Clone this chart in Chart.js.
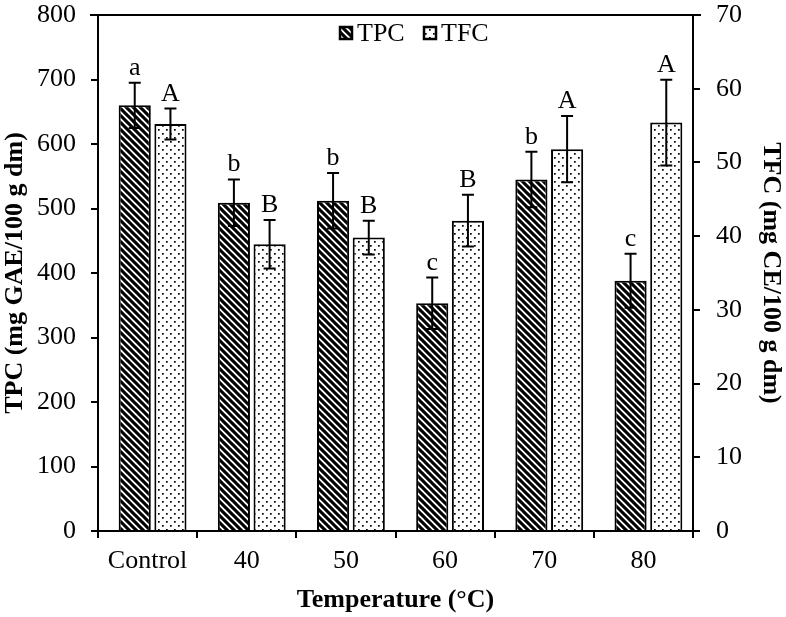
<!DOCTYPE html>
<html><head><meta charset="utf-8">
<script src="https://cdn.jsdelivr.net/npm/chart.js@4/dist/chart.umd.min.js"></script>
<style>html,body{margin:0;padding:0;background:#fff}#wrap{width:786px;height:617px}</style>
</head><body><div id="wrap"><canvas id="c" width="786" height="617"></canvas></div>
<script>
const categories = ['Control', '40', '50', '60', '70', '80'];
const tpcValues = [660, 509, 512, 353, 545, 388];
const tpcErrors = [35, 36, 43, 40, 43, 42];
const tfcValues = [55.2, 38.9, 39.8, 42.1, 51.8, 55.4];
const tfcErrors = [2.1, 3.3, 2.3, 3.5, 4.5, 5.8];
const tpcLetters = ['a', 'b', 'b', 'c', 'b', 'c'];
const tfcLetters = ['A', 'B', 'B', 'B', 'A', 'A'];
const seriesNames = ['TPC', 'TFC'];
const leftTitle = 'TPC (mg GAE/100 g dm)';
const rightTitle = 'TFC (mg CE/100 g dm)';
const xTitle = 'Temperature (°C)';

const FONT = "'Liberation Serif', 'Times New Roman', serif";
const FS = 26;
const GROUP_SHIFT = 5; // bars sit slightly right of category centre in the original

function stripePattern() {
  const s = 7;
  const c = document.createElement('canvas'); c.width = s; c.height = s;
  const x = c.getContext('2d');
  x.fillStyle = '#fff'; x.fillRect(0, 0, s, s);
  x.strokeStyle = '#000'; x.lineWidth = 3.1;
  for (const o of [-s, 0, s]) { x.beginPath(); x.moveTo(o - 1, -1); x.lineTo(o + s + 1, s + 1); x.stroke(); }
  return x.createPattern(c, 'repeat');
}
function dotPattern() {
  const s = 8;
  const c = document.createElement('canvas'); c.width = s; c.height = s;
  const x = c.getContext('2d');
  x.fillStyle = '#fff'; x.fillRect(0, 0, s, s);
  x.fillStyle = '#000';
  x.fillRect(1, 1, 1.7, 1.7);
  x.fillRect(5, 5, 1.7, 1.7);
  return x.createPattern(c, 'repeat');
}
const stripe = stripePattern();
const dots = dotPattern();

const errorLetters = {
  id: 'errorLetters',
  beforeDatasetsDraw(chart) {
    chart.ctx.save();
    chart.ctx.translate(GROUP_SHIFT, 0);
  },
  afterDatasetsDraw(chart) {
    const ctx = chart.ctx;
    const sets = [
      { meta: chart.getDatasetMeta(0), vals: tpcValues, errs: tpcErrors, letters: tpcLetters, scale: chart.scales.y },
      { meta: chart.getDatasetMeta(1), vals: tfcValues, errs: tfcErrors, letters: tfcLetters, scale: chart.scales.y1 }
    ];
    ctx.save();
    ctx.strokeStyle = '#000'; ctx.lineWidth = 2;
    ctx.fillStyle = '#000';
    ctx.font = FS + 'px ' + FONT;
    ctx.textAlign = 'center'; ctx.textBaseline = 'alphabetic';
    for (const s of sets) {
      s.meta.data.forEach((bar, i) => {
        const x = bar.x;
        const yt = s.scale.getPixelForValue(s.vals[i] + s.errs[i]);
        const yb = s.scale.getPixelForValue(s.vals[i] - s.errs[i]);
        const cw = 6;
        ctx.beginPath();
        ctx.moveTo(x, yt); ctx.lineTo(x, yb);
        ctx.moveTo(x - cw, yt); ctx.lineTo(x + cw, yt);
        ctx.moveTo(x - cw, yb); ctx.lineTo(x + cw, yb);
        ctx.stroke();
        ctx.fillText(s.letters[i], x, yt - 8);
      });
    }
    ctx.restore();
    ctx.restore(); // undo translate
    ctx.save();
    ctx.strokeStyle = '#000'; ctx.lineWidth = 2;
    const a = chart.chartArea;
    ctx.beginPath(); ctx.moveTo(a.left - 8, a.top); ctx.lineTo(a.right + 8, a.top); ctx.stroke();
    const ly = 33;
    const items = [{ x: 339, fill: stripe, label: seriesNames[0] }, { x: 423, fill: dots, label: seriesNames[1] }];
    ctx.font = FS + 'px ' + FONT;
    ctx.textAlign = 'left'; ctx.textBaseline = 'middle';
    for (const it of items) {
      ctx.fillStyle = it.fill;
      ctx.fillRect(it.x, ly - 7, 14, 14);
      ctx.lineWidth = 2.5; ctx.strokeStyle = '#000';
      ctx.strokeRect(it.x + 1, ly - 6, 12, 12);
      ctx.fillStyle = '#000';
      ctx.fillText(it.label, it.x + 18, ly + 1);
    }
    ctx.restore();
  }
};

const axisCommon = {
  border: { display: true, color: '#000', width: 2 },
  grid: { display: true, drawOnChartArea: false, drawTicks: true, tickLength: 7, tickColor: '#000', tickWidth: 2, color: '#000', lineWidth: 2 }
};

new Chart(document.getElementById('c'), {
  type: 'bar',
  data: {
    labels: categories,
    datasets: [
      { label: seriesNames[0], data: tpcValues, yAxisID: 'y', backgroundColor: stripe, borderColor: '#000', borderWidth: 2, categoryPercentage: 0.72, barPercentage: 0.9 },
      { label: seriesNames[1], data: tfcValues, yAxisID: 'y1', backgroundColor: dots, borderColor: '#000', borderWidth: 2, categoryPercentage: 0.72, barPercentage: 0.9 }
    ]
  },
  options: {
    responsive: false,
    animation: false,
    devicePixelRatio: 1,
    layout: { padding: { top: 15, left: 0, right: 0, bottom: 0 } },
    plugins: { legend: { display: false }, tooltip: { enabled: false } },
    scales: {
      x: {
        ...axisCommon,
        ticks: { color: '#000', font: { family: FONT, size: FS }, padding: 8 },
        title: { display: true, text: xTitle, color: '#000', font: { family: FONT, size: FS, weight: 'bold' }, padding: { top: 0, bottom: 1 } },
        afterFit(s) { s.height = 86; s.paddingLeft = 0; s.paddingRight = 0; }
      },
      y: {
        ...axisCommon,
        position: 'left', min: 0, max: 800,
        ticks: { stepSize: 100, color: '#000', font: { family: FONT, size: FS }, padding: 15 },
        title: { display: true, text: leftTitle, color: '#000', font: { family: FONT, size: FS, weight: 'bold' }, padding: { top: 0, bottom: 0 } },
        afterFit(s) { s.width = 98; s.paddingTop = 0; s.paddingBottom = 0; }
      },
      y1: {
        ...axisCommon,
        position: 'right', min: 0, max: 70,
        ticks: { stepSize: 10, color: '#000', font: { family: FONT, size: FS }, padding: 16 },
        title: { display: true, text: rightTitle, color: '#000', font: { family: FONT, size: FS, weight: 'bold' }, padding: { top: 0, bottom: 0 } },
        afterFit(s) { s.width = 93; s.paddingTop = 0; s.paddingBottom = 0; }
      }
    }
  },
  plugins: [errorLetters]
});
</script></body></html>
